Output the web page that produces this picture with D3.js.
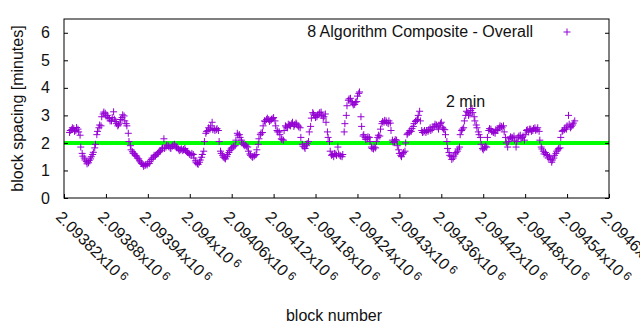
<!DOCTYPE html>
<html>
<head>
<meta charset="utf-8">
<script src="https://cdn.jsdelivr.net/npm/d3@7"></script>
<style>
  body { margin: 0; background: #fff; }
  text { font-family: "Liberation Sans", Arial, sans-serif; font-size: 16px; fill: #111; }
</style>
</head>
<body>
<div id="chart"></div>
<script>
// block numbers run in steps of 3 from the first plotted block,
// the second list sits one block after each entry of the first
const firstBlock = 2093828;
const blockStep = 3;
const spacing = [
  2.38, 2.48, 2.52, 2.45, 2.50, 2.28, 1.62, 1.45, 1.32, 1.28,
  1.42, 1.58, 1.82, 2.30, 2.55, 2.62, 3.05, 3.08, 3.00, 2.88,
  2.80, 3.13, 2.78, 2.62, 2.72, 2.92, 2.98, 2.70, 2.35, 1.90,
  1.68, 1.60, 1.52, 1.42, 1.30, 1.22, 1.18, 1.20, 1.25, 1.40,
  1.48, 1.52, 1.60, 1.68, 1.78, 2.15, 1.85, 1.90, 1.82, 1.88,
  1.95, 1.85, 1.78, 1.75, 1.72, 1.80, 1.68, 1.62, 1.55, 1.58,
  1.35, 1.25, 1.30, 1.48, 1.70, 2.35, 2.45, 2.50, 2.75, 2.52,
  2.48, 2.45, 1.70, 1.55, 1.45, 1.50, 1.65, 1.78, 1.85, 1.90,
  2.35, 2.30, 2.10, 1.95, 1.92, 1.85, 1.60, 1.50, 1.52, 1.58,
  1.95, 2.30, 2.38, 2.80, 2.85, 2.85, 2.82, 2.88, 2.80, 2.45,
  2.40, 2.15, 2.10, 2.62, 2.55, 2.65, 2.70, 2.60, 2.72, 2.62,
  2.55, 1.95, 1.85, 1.90, 2.05, 2.60, 3.10, 3.00, 2.95, 3.05,
  3.12, 2.90, 3.05, 2.40, 2.05, 1.55, 1.50, 1.60, 1.85, 1.55,
  1.50, 2.40, 3.00, 3.55, 3.62, 3.45, 3.40, 3.50, 3.80, 2.95,
  2.25, 2.20, 2.15, 2.20, 1.85, 1.78, 1.82, 2.20, 2.25, 2.70,
  2.75, 2.80, 2.70, 2.72, 2.10, 2.05, 2.10, 1.75, 1.55, 1.60,
  1.70, 2.30, 2.38, 2.42, 2.60, 2.78, 2.85, 3.15, 2.45, 2.40,
  2.38, 2.42, 2.55, 2.50, 2.60, 2.65, 2.50, 2.70, 2.55, 2.48,
  2.05, 1.65, 1.50, 1.45, 1.60, 1.70, 1.85, 2.45, 2.55, 3.00,
  3.10, 3.05, 3.25, 2.95, 2.65, 2.40, 2.20, 1.80, 1.82, 1.85,
  2.45, 2.50, 2.40, 2.35, 2.45, 2.55, 2.60, 2.62, 2.20, 1.85,
  2.15, 2.20, 2.25, 1.85, 2.20, 2.28, 2.20, 2.10, 2.45, 2.40,
  2.50, 2.45, 2.55, 2.48, 2.42, 1.85, 1.70, 1.65, 1.55, 1.50,
  1.30, 1.45, 1.62, 1.75, 1.82, 2.42, 2.48, 2.50, 3.00, 2.55,
  2.65, 2.80
];
const spacingB = [
  2.45, 2.55, 2.42, 2.56, 2.40, 1.85, 1.52, 1.38, 1.24, 1.36,
  1.50, 1.66, 1.95, 2.42, 2.65, 2.95, 3.12, 2.98, 2.92, 2.80,
  2.92, 2.86, 2.70, 2.66, 2.85, 3.02, 2.80, 2.62, 2.05, 1.75,
  1.62, 1.55, 1.45, 1.35, 1.25, 1.15, 1.22, 1.26, 1.32, 1.45,
  1.55, 1.58, 1.65, 1.72, 1.82, 1.80, 1.92, 1.86, 1.80, 1.92,
  1.88, 1.82, 1.72, 1.78, 1.76, 1.72, 1.65, 1.58, 1.62, 1.45,
  1.28, 1.22, 1.38, 1.58, 2.05, 2.42, 2.55, 2.62, 2.48, 2.45,
  2.52, 2.05, 1.62, 1.48, 1.42, 1.58, 1.72, 1.82, 1.88, 2.10,
  2.28, 2.20, 2.00, 1.90, 1.88, 1.70, 1.55, 1.48, 1.55, 1.75,
  2.15, 2.36, 2.62, 2.78, 2.90, 2.78, 2.86, 2.92, 2.62, 2.40,
  2.30, 2.12, 2.45, 2.58, 2.68, 2.62, 2.75, 2.66, 2.68, 2.58,
  2.20, 1.88, 1.80, 1.98, 2.40, 2.90, 3.05, 2.92, 3.02, 3.10,
  3.00, 2.95, 2.75, 2.20, 1.70, 1.58, 1.62, 1.55, 1.60, 1.52,
  1.58, 2.70, 3.35, 3.60, 3.50, 3.38, 3.48, 3.70, 3.85, 2.60,
  2.30, 2.12, 2.22, 2.05, 1.80, 1.85, 2.05, 2.28, 2.50, 2.78,
  2.82, 2.74, 2.80, 2.45, 2.02, 2.12, 1.90, 1.62, 1.50, 1.65,
  2.00, 2.35, 2.45, 2.52, 2.70, 2.82, 3.00, 2.80, 2.38, 2.45,
  2.45, 2.48, 2.45, 2.58, 2.68, 2.58, 2.62, 2.75, 2.50, 2.30,
  1.80, 1.55, 1.40, 1.52, 1.65, 1.78, 2.30, 2.50, 2.80, 3.15,
  3.00, 3.18, 3.10, 2.80, 2.55, 2.30, 1.95, 1.75, 1.88, 2.20,
  2.52, 2.42, 2.38, 2.48, 2.50, 2.62, 2.55, 2.40, 2.00, 2.05,
  2.22, 2.18, 2.10, 2.05, 2.25, 2.15, 2.25, 2.30, 2.48, 2.50,
  2.42, 2.52, 2.46, 2.55, 2.10, 1.78, 1.60, 1.58, 1.45, 1.40,
  1.38, 1.55, 1.70, 1.80, 2.20, 2.45, 2.55, 2.62, 2.68, 2.60,
  2.72
];
const xTicks = [2093820, 2093880, 2093940, 2094000, 2094060, 2094120, 2094180,
  2094240, 2094300, 2094360, 2094420, 2094480, 2094540, 2094600];
const yTicks = [0, 1, 2, 3, 4, 5, 6];
const targetMinutes = 2;
const seriesName = '8 Algorithm Composite - Overall';

const W = 640, H = 330;
const margin = {top: 19, right: 31, bottom: 132, left: 64};
const width = W - margin.left - margin.right,
      height = H - margin.top - margin.bottom;
const purple = '#9400d3';

const svg = d3.select('#chart').append('svg')
  .attr('width', W).attr('height', H);
const g = svg.append('g')
  .attr('transform', 'translate(' + margin.left + ',' + margin.top + ')');

const x = d3.scaleLinear().domain([2093820, 2094600]).range([0, width]);
const y = d3.scaleLinear().domain([0, 6.5]).range([height, 0]);

const points = spacing.map((v, i) => ({block: firstBlock + i * blockStep, value: v}))
  .concat(spacingB.map((v, i) => ({block: firstBlock + 1 + i * blockStep, value: v})));

// 2 minute target line
g.append('line')
  .attr('x1', 0).attr('x2', width)
  .attr('y1', y(targetMinutes)).attr('y2', y(targetMinutes))
  .attr('stroke', '#00ff00').attr('stroke-width', 4);

// plus markers
function plus(sel, s) {
  sel.append('path')
    .attr('d', 'M' + (-s) + ',0H' + s + 'M0,' + (-s) + 'V' + s)
    .attr('stroke', purple).attr('stroke-width', 1).attr('fill', 'none');
}
g.append('g').selectAll('g')
  .data(points)
  .enter().append('g')
    .attr('transform', d => 'translate(' + x(d.block) + ',' + y(d.value) + ')')
    .call(plus, 3.5);

// frame
g.append('rect')
  .attr('width', width).attr('height', height)
  .attr('fill', 'none').attr('stroke', '#000').attr('stroke-width', 1);

// y axis, ticks on both sides
const yAxis = g.append('g')
  .call(d3.axisLeft(y).tickValues(yTicks).tickSize(-4).tickPadding(14).tickFormat(d3.format('d')));
const yAxisR = g.append('g').attr('transform', 'translate(' + width + ',0)')
  .call(d3.axisRight(y).tickValues(yTicks).tickSize(-4).tickFormat(''));
[yAxis, yAxisR].forEach(a => { a.select('.domain').remove(); a.selectAll('line').attr('stroke', '#000'); });
yAxis.selectAll('text').style('font-size', '16px').attr('font-family', null).attr('fill', null);

// x axis
const xAxis = g.append('g').attr('transform', 'translate(0,' + height + ')')
  .call(d3.axisBottom(x).tickValues(xTicks).tickSize(-4).tickFormat(''));
xAxis.select('.domain').remove();
xAxis.selectAll('line').attr('stroke', '#000');

const xLab = g.append('g').selectAll('text')
  .data(xTicks)
  .enter().append('text')
    .attr('transform', d => 'translate(' + (x(d) - 9) + ',' + (height + 20) + ') rotate(45)')
    .attr('text-anchor', 'start');
xLab.append('tspan').text(d => (d / 1e6).toString() + 'x10');
xLab.append('tspan').attr('dx', 3).attr('dy', -4).style('font-size', '12px').text('6');

// axis titles
svg.append('text')
  .attr('transform', 'translate(23,' + (margin.top + height / 2) + ') rotate(-90)')
  .attr('text-anchor', 'middle')
  .text('block spacing [minutes]');
svg.append('text')
  .attr('x', 334).attr('y', 321)
  .attr('text-anchor', 'middle')
  .text('block number');

// annotation
g.append('text')
  .attr('x', 446 - margin.left).attr('y', 107 - margin.top)
  .text(targetMinutes + ' min');

// legend
svg.append('text')
  .attr('x', 533).attr('y', 37)
  .attr('text-anchor', 'end')
  .text(seriesName);
svg.append('g').attr('transform', 'translate(567,32)').call(plus, 3.5);
</script>
</body>
</html>
